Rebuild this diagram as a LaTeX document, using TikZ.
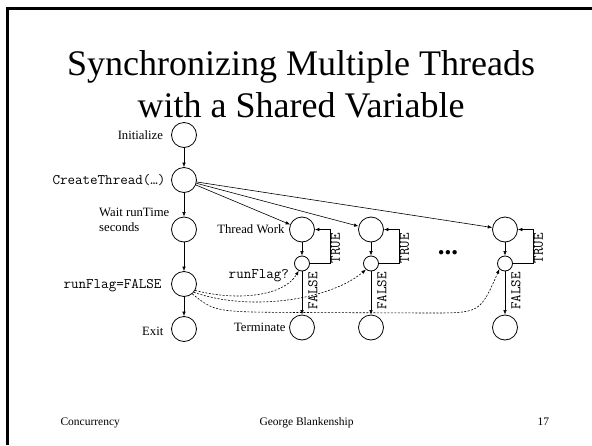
\documentclass[tikz,border=0pt]{standalone}
\usepackage{fontspec}
\setmainfont{Liberation Serif}
\usetikzlibrary{positioning, arrows.meta}
\tikzset{task/.style = {circle, draw, line width=0.8pt, minimum size=25pt, inner sep=0pt}}
\tikzset{check/.style = {task, minimum size=15pt}}
\tikzset{caption/.style = {inner sep=0pt, font=\fontsize{12.7}{15}\selectfont}}
\tikzset{code/.style = {inner sep=0pt, font=\fontsize{14.6}{16}\selectfont\ttfamily}}
\tikzset{flow/.style = {-{Latex[length=4.5pt,width=3.5pt]}, line width=0.6pt}}
\tikzset{signal/.style = {flow, dash pattern=on 2pt off 1.5pt}}

\begin{document}
\begin{tikzpicture}[x=1pt, y=-1pt]
      \useasboundingbox (0,0) rectangle (592,445);
      % slide frame
      \draw[line width=2.5pt] (7.5,445) -- (7.5,8.5) -- (592,8.5);

      \node[anchor=base, font=\fontsize{36}{42}\selectfont] (titleTop) at (301,75)
        {Synchronizing Multiple Threads};
      \node[anchor=base, font=\fontsize{36}{42}\selectfont] (titleBottom) at (301,117)
        {with a Shared Variable};

      % main thread
      \node[task] (init) at (184,135) {};
      \node[task] (createThread) at (184,180) {};
      \node[task] (waitRun) at (184,229.5) {};
      \node[task] (setFlag) at (184,284) {};
      \node[task] (exitMain) at (184,329) {};

      \node[caption, left=8pt of init] (initText) {Initialize};
      \node[code, left=5.5pt of createThread] (createText) {CreateThread(…)};
      \node[caption, anchor=north west, align=left] (waitText) at (99,208)
        {Wait runTime\\seconds};
      \node[code, left=9.5pt of setFlag, yshift=-2pt] (setFlagText) {runFlag=FALSE};
      \node[caption, left=7.5pt of exitMain, yshift=-2pt] (exitText) {Exit};

      % worker threads
      \node[task] (workA) at (302,229.5) {};
      \node[check] (testA) at (302,263.5) {};
      \node[task] (termA) at (302,327.5) {};
      \node[task] (workB) at (371,229.5) {};
      \node[check] (testB) at (371,263.5) {};
      \node[task] (termB) at (371,327.5) {};
      \node[task] (workC) at (505,229.5) {};
      \node[check] (testC) at (505,263.5) {};
      \node[task] (termC) at (505,327.5) {};

      \node[caption, left=4.5pt of workA] (workText) {Thread Work};
      \node[code, left=5pt of testA, yshift=-12pt] (testText) {runFlag?};
      \node[caption, left=3.5pt of termA] (termText) {Terminate};
      \node[anchor=base, font=\fontsize{27}{27}\selectfont\bfseries] (moreThreads)
        at (448,254) {...};

      \node[code, rotate=90] (trueA) at (335.5,248) {TRUE};
      \node[code, rotate=90] (falseA) at (313,291) {FALSE};
      \node[code, rotate=90] (trueB) at (404.5,248) {TRUE};
      \node[code, rotate=90] (falseB) at (382,291) {FALSE};
      \node[code, rotate=90] (trueC) at (538.5,248) {TRUE};
      \node[code, rotate=90] (falseC) at (516,291) {FALSE};

      \draw[flow] (init) -- (createThread);
      \draw[flow] (createThread) -- (waitRun);
      \draw[flow] (waitRun) -- (setFlag);
      \draw[flow] (setFlag) -- (exitMain);

      \draw[flow] (createThread) -- (workA);
      \draw[flow] (createThread) -- (workB);
      \draw[flow] (createThread) -- (workC);

      \draw[flow] (workA) -- (testA);
      \draw[flow] (testA) -- (termA);
      \draw[flow] (testA.east) -- ++(20.5,0) |- (workA.east);
      \draw[flow] (workB) -- (testB);
      \draw[flow] (testB) -- (termB);
      \draw[flow] (testB.east) -- ++(20,0) |- (workB.east);
      \draw[flow] (workC) -- (testC);
      \draw[flow] (testC) -- (termC);
      \draw[flow] (testC.east) -- ++(20,0) |- (workC.east);

      % runFlag seen by every thread
      \draw[signal] (setFlag.-30) .. controls (240,302) and (285,295) .. (testA.-115);
      \draw[signal] (setFlag.-40) .. controls (250,312) and (330,300) .. (testB.-130);
      \draw[signal] (setFlag.-50) .. controls (215,312) .. (300,312.5) -- (430,313)
        .. controls (480,313) .. (testC.-135);

      \node[anchor=base west, font=\fontsize{11.5}{14}\selectfont] (footLeft)
        at (57,425) {Concurrency};
      \node[anchor=base west, font=\fontsize{11.5}{14}\selectfont] (footMiddle)
        at (256,425) {George Blankenship};
      \node[anchor=base west, font=\fontsize{11.5}{14}\selectfont] (footRight)
        at (534,425) {17};
    \end{tikzpicture}
\end{document}
